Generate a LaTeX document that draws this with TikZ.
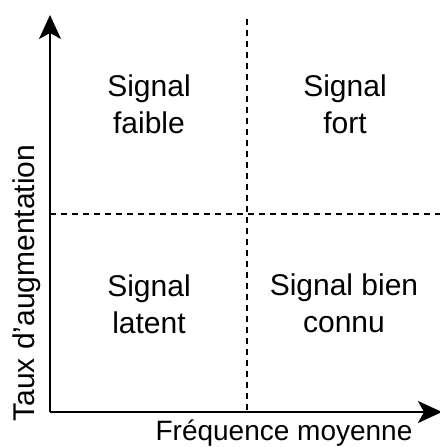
\documentclass[tikz,border=0pt]{standalone}
\usepackage{fontspec}
\setmainfont{Liberation Sans}
\usetikzlibrary{arrows.meta}

\begin{document}
\begin{tikzpicture}[x=0.5pt, y=-0.5pt,
    every node/.style={font=\fontsize{15}{18.5}\selectfont, align=center, inner sep=0pt},
    axe/.style={line width=1pt, -{Stealth[length=12pt, width=11pt, inset=3pt]}},
    grille/.style={line width=0.9pt, dash pattern=on 3pt off 2.5pt}]
    \useasboundingbox (0,0) rectangle (440,447);

    % Points des axes
    \coordinate (O) at (50,412);
    \coordinate (yfin) at (50,15);
    \coordinate (xfin) at (442,412);

    % Lignes de partage (pointillés)
    \coordinate (vhaut) at (247,19);
    \coordinate (vbas) at (247,412);
    \coordinate (hgauche) at (50,214);
    \coordinate (hdroite) at (440,214);
    \draw[grille] (vhaut) -- (vbas);
    \draw[grille] (hgauche) -- (hdroite);

    % Axes
    \draw[axe] (O) -- (yfin);
    \draw[axe] (O) -- (xfin);

    % Quadrants
    \node (faible) at (149,104) {Signal\\faible};
    \node (fort) at (345,104) {Signal\\fort};
    \node (latent) at (149,304) {Signal\\latent};
    \node (connu) at (344,303) {Signal bien\\connu};

    % Titres des axes
    \node[rotate=90] (taux) at (27,283) {Taux d'augmentation};
    \node[font=\fontsize{14}{17}\selectfont] (freq) at (284,433) {Fréquence moyenne};
\end{tikzpicture}
\end{document}
